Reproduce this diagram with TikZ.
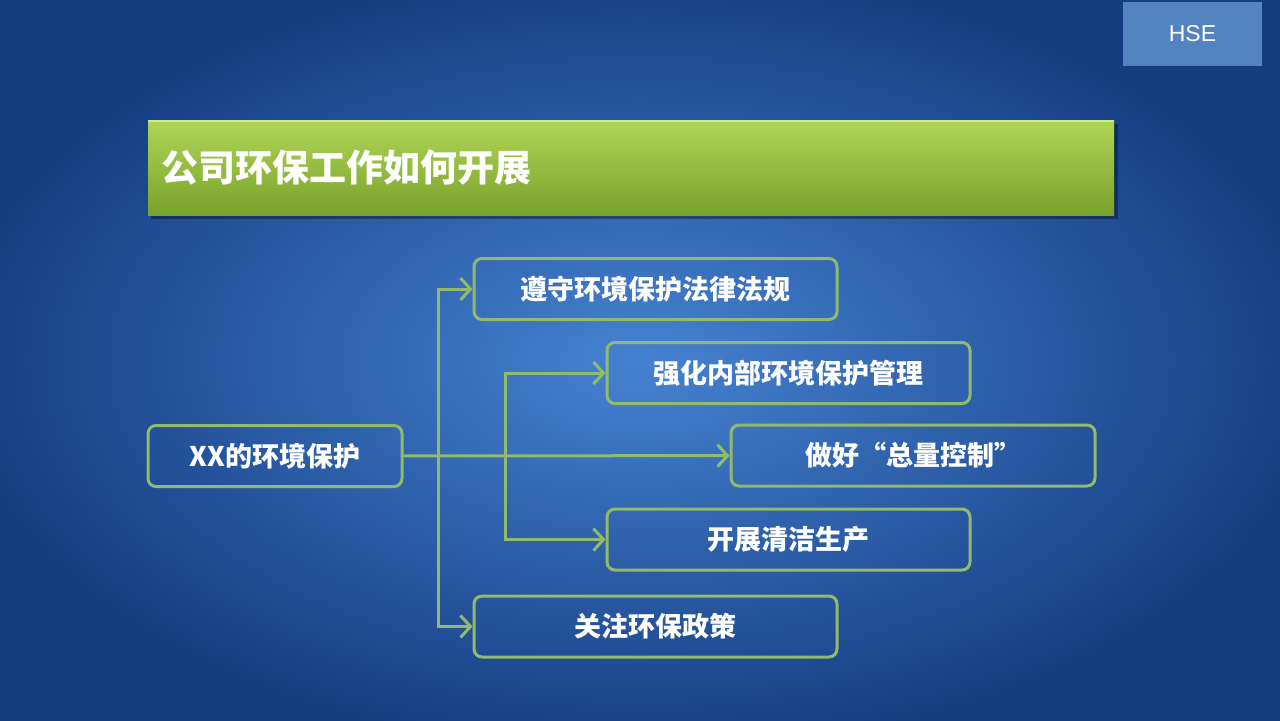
\documentclass[tikz,border=0pt]{standalone}
\usepackage{fontspec}
\setmainfont{Liberation Sans}
\newfontfamily\cjk{Noto Sans CJK SC}
\usepackage{tikz}
\usetikzlibrary{arrows.meta}
\definecolor{bgin}{RGB}{70,130,210}
\definecolor{bgout}{RGB}{20,60,128}
\definecolor{leaf}{RGB}{146,186,108}
\definecolor{bartop}{RGB}{176,214,86}
\definecolor{barbot}{RGB}{120,162,44}
\definecolor{hsebox}{RGB}{84,132,192}
\tikzstyle{whrectround} = [rectangle, rounded corners=4pt,
minimum height=30.5pt,
text centered,
draw=leaf, line width=1.5pt,
text=white, font=\cjk\bfseries\fontsize{13.5}{16}\selectfont]
\tikzstyle{arr} = [draw=leaf, line width=1.5pt, -{Straight Barb[length=5pt,width=11pt]}]

\begin{document}
\begin{tikzpicture}[x=0.5pt, y=-0.5pt]
		\useasboundingbox (0,0) rectangle (1280,720);
		% background
		\clip (0,0) rectangle (1280,720);
		\shade[inner color=bgin, outer color=bgout] (-60,-40) rectangle (1340,760);
		% HSE label
		\node (hse) [rectangle, fill=hsebox, minimum width=69.5pt, minimum height=32pt, text=white, font=\fontsize{11.5}{14}\selectfont] at (1192.5,34) {HSE};
		% title bar
		\fill[black, opacity=0.35] (151,124) rectangle (1118,219);
		\shade[top color=bartop, bottom color=barbot] (148,120) rectangle (1114,215);
		\draw[bartop!60!white, line width=1pt] (148,121) -- (1114,121);
		\node (title) [anchor=west, text=white, font=\cjk\bfseries\fontsize{18.5}{22}\selectfont] at (154,168) {公司环保工作如何开展};
		% boxes
		\node (root) [whrectround, minimum width=127pt] at (275,456) {XX的环境保护};
		\node (law) [whrectround, minimum width=181.5pt] at (655.5,289) {遵守环境保护法律法规};
		\node (manage) [whrectround, minimum width=181.5pt] at (788.5,373) {强化内部环境保护管理};
		\node (total) [whrectround, minimum width=182pt] at (913,455.5) {做好“总量控制”};
		\node (clean) [whrectround, minimum width=181.5pt] at (788.5,539.5) {开展清洁生产};
		\node (policy) [whrectround, minimum width=181.5pt] at (655.5,626.5) {关注环保政策};
		% connectors
		\coordinate (j1) at (438,456);
		\coordinate (j2) at (505,456);
		\draw [arr](root) -- (total);
		\draw [arr](j1) |- (law);
		\draw [arr](j1) |- (policy);
		\draw [arr](j2) |- (manage);
		\draw [arr](j2) |- (clean);
	\end{tikzpicture}
\end{document}
